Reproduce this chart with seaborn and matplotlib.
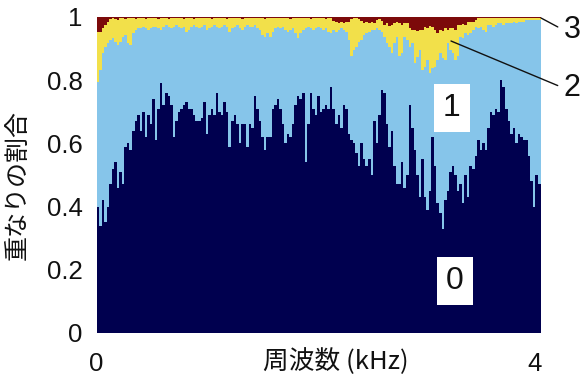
import numpy as np
import pandas as pd
import matplotlib
matplotlib.use("Agg")
import matplotlib.pyplot as plt
import seaborn as sns

# ---------------- data ----------------
freq_range_khz = (0.0, 4.05)
class_order = ["0", "1", "2", "3"]

# upper edge of class "0" share in each frequency bin
top_0 = [
    0.40, 0.34, 0.42, 0.35, 0.40, 0.47, 0.52, 0.54, 0.46, 0.51,
    0.47, 0.59, 0.60, 0.58, 0.64, 0.67, 0.69, 0.64, 0.70, 0.62,
    0.69, 0.66, 0.74, 0.61, 0.71, 0.79, 0.72, 0.76, 0.75, 0.72,
    0.62, 0.67, 0.70, 0.71, 0.72, 0.73, 0.71, 0.71, 0.69, 0.67,
    0.67, 0.68, 0.73, 0.63, 0.69, 0.71, 0.69, 0.76, 0.70, 0.69,
    0.73, 0.70, 0.59, 0.67, 0.69, 0.66, 0.60, 0.66, 0.66, 0.59, 0.66,
    0.65, 0.75, 0.71, 0.67, 0.62, 0.58, 0.62, 0.62, 0.71, 0.72,
    0.74, 0.71, 0.66, 0.60, 0.63, 0.62, 0.66, 0.72, 0.75, 0.74,
    0.76, 0.54, 0.66, 0.76, 0.71, 0.69, 0.75, 0.70, 0.71, 0.72,
    0.71, 0.78, 0.71, 0.66, 0.69, 0.65, 0.72, 0.71, 0.63, 0.61,
    0.60, 0.57, 0.53, 0.60, 0.55, 0.53, 0.55, 0.50, 0.67, 0.60,
    0.69, 0.77, 0.76, 0.66, 0.59, 0.64, 0.53, 0.47,
    0.47, 0.54, 0.46, 0.50, 0.72, 0.65, 0.58, 0.50, 0.43, 0.55,
    0.43, 0.39, 0.45, 0.62, 0.53, 0.41, 0.38, 0.33, 0.42, 0.45,
    0.51, 0.53, 0.50, 0.45, 0.47, 0.41, 0.50, 0.43, 0.53, 0.52,
    0.56, 0.61, 0.58, 0.60, 0.58, 0.65, 0.70, 0.69, 0.71, 0.70,
    0.80, 0.78, 0.71, 0.67, 0.63, 0.65, 0.60, 0.63, 0.62, 0.61,
    0.61, 0.56, 0.48, 0.40, 0.50, 0.47,
]

# upper edge of classes "0"+"1"
top_01 = [
    0.795, 0.832, 0.885, 0.906, 0.917, 0.927, 0.933, 0.922, 0.911, 0.922,
    0.938, 0.943, 0.917, 0.911, 0.948, 0.959, 0.964, 0.964, 0.969, 0.964,
    0.959, 0.964, 0.969, 0.969, 0.964, 0.959, 0.969, 0.975, 0.969, 0.964,
    0.969, 0.975, 0.969, 0.964, 0.969, 0.954, 0.959, 0.969, 0.975, 0.969,
    0.964, 0.969, 0.975, 0.959, 0.964, 0.969, 0.975, 0.969, 0.964, 0.969,
    0.975, 0.969, 0.954, 0.964, 0.969, 0.975, 0.964, 0.959, 0.969, 0.975, 0.969,
    0.969, 0.975, 0.964, 0.959, 0.943, 0.938, 0.948, 0.938, 0.954, 0.964,
    0.969, 0.964, 0.969, 0.959, 0.954, 0.959, 0.964, 0.948, 0.933, 0.948,
    0.959, 0.964, 0.969, 0.964, 0.959, 0.964, 0.969, 0.964, 0.959, 0.964,
    0.954, 0.948, 0.959, 0.954, 0.959, 0.964, 0.959, 0.954, 0.927, 0.875,
    0.896, 0.906, 0.922, 0.927, 0.943, 0.948, 0.954, 0.959, 0.959, 0.964,
    0.959, 0.954, 0.938, 0.917, 0.906, 0.885, 0.917, 0.938,
    0.875, 0.885, 0.938, 0.927, 0.906, 0.917, 0.853, 0.875, 0.896, 0.832,
    0.843, 0.864, 0.822, 0.838, 0.843, 0.864, 0.885, 0.869, 0.864, 0.917,
    0.896, 0.885, 0.864, 0.875, 0.938, 0.933, 0.948, 0.943, 0.948, 0.959,
    0.969, 0.964, 0.969, 0.959, 0.954, 0.975, 0.975, 0.969, 0.975, 0.980,
    0.980, 0.975, 0.980, 0.980, 0.980, 0.985, 0.980, 0.985, 0.985, 0.985,
    0.990, 0.990, 0.990, 0.990, 0.990, 0.990,
]

# upper edge of classes "0"+"1"+"2" (the rest up to 1 is class "3")
top_012 = [
    0.954, 0.954, 0.964, 0.975, 0.985, 0.994, 0.996, 0.994, 0.992, 0.996,
    0.997, 0.994, 0.997, 0.998, 0.996, 0.994, 0.998, 0.998, 0.996, 0.994,
    0.998, 0.998, 0.996, 0.997, 0.994, 0.998, 0.998, 0.996, 0.994, 0.997,
    0.998, 0.998, 0.997, 0.996, 0.994, 0.998, 0.998, 0.997, 0.994, 0.996,
    0.998, 0.997, 0.996, 0.998, 0.998, 0.994, 0.996, 0.998, 0.997, 0.998,
    0.996, 0.994, 0.998, 0.998, 0.997, 0.996, 0.998, 0.994, 0.996, 0.998, 0.997,
    0.997, 0.998, 0.996, 0.997, 0.998, 0.994, 0.997, 0.998, 0.996, 0.997,
    0.998, 0.997, 0.996, 0.998, 0.997, 0.994, 0.997, 0.998, 0.996, 0.997,
    0.998, 0.996, 0.997, 0.994, 0.998, 0.997, 0.996, 0.998, 0.997, 0.994,
    0.996, 0.997, 0.988, 0.985, 0.980, 0.985, 0.980, 0.983, 0.985, 0.994,
    0.996, 0.997, 0.994, 0.988, 0.980, 0.985, 0.980, 0.983, 0.980, 0.992,
    0.994, 0.988, 0.975, 0.980, 0.970, 0.975, 0.980, 0.985,
    0.980, 0.975, 0.980, 0.980, 0.964, 0.960, 0.959, 0.955, 0.960, 0.959,
    0.969, 0.965, 0.970, 0.969, 0.959, 0.950, 0.959, 0.955, 0.964, 0.960,
    0.964, 0.965, 0.960, 0.975, 0.975, 0.978, 0.975, 0.985, 0.985, 0.983,
    0.992, 0.996, 0.997, 0.996, 0.997, 0.998, 0.997, 0.996, 0.997, 0.998,
    0.997, 0.996, 0.998, 0.997, 0.996, 0.998, 0.997, 0.998, 0.996, 0.998,
    0.998, 0.997, 0.998, 0.998, 0.998, 0.998,
]

y_ticks = [0, 0.2, 0.4, 0.6, 0.8, 1]
y_tick_labels = ["0", "0.2", "0.4", "0.6", "0.8", "1"]
x_ticks = [0, 4]
x_tick_labels = ["0", "4"]
x_label = "周波数 (kHz)"
y_label = "重なりの割合"
palette = {"0": "#00004f", "1": "#86c5ea", "2": "#f2e04a", "3": "#7c0a0a"}

# ---------------- build long table ----------------
n = len(top_0)
edges = np.linspace(freq_range_khz[0], freq_range_khz[1], n + 1)
centers = (edges[:-1] + edges[1:]) / 2
t0 = np.array(top_0)
t01 = np.array(top_01)
t012 = np.array(top_012)
shares = {"0": t0, "1": t01 - t0, "2": t012 - t01, "3": 1.0 - t012}
df = pd.concat(
    [pd.DataFrame({"freq": centers, "cls": k, "share": v}) for k, v in shares.items()],
    ignore_index=True,
)

# ---------------- plot ----------------
sns.set_theme(style="white")
plt.rcParams["font.family"] = ["Liberation Sans", "DejaVu Sans"]
cjk = ["Noto Sans CJK JP", "DejaVu Sans"]

W, H = 584, 377
fig = plt.figure(figsize=(W / 100, H / 100), dpi=100)
L, R, T, B = 96.5, 540.5, 17, 333
ax = fig.add_axes([L / W, 1 - B / H, (R - L) / W, (B - T) / H])

sns.histplot(
    data=df, x="freq", weights="share", hue="cls",
    hue_order=["3", "2", "1", "0"], bins=list(edges),
    multiple="fill", element="step", fill=True,
    linewidth=0, alpha=1, palette=palette, legend=False, ax=ax,
)

ax.set_xlim(*freq_range_khz)
ax.set_ylim(0, 1)
for s in ax.spines.values():
    s.set_visible(False)
ax.set_yticks(y_ticks)
ax.set_yticklabels(y_tick_labels)
ax.set_xticks(x_ticks)
ax.set_xticklabels(x_tick_labels)
ax.tick_params(axis="both", length=0, labelsize=18.5, colors="#111111")
ax.tick_params(axis="y", pad=10)
ax.tick_params(axis="x", pad=14)
ax.set_xlabel("")
ax.set_ylabel("")

fig.text(336 / W, 1 - 362 / H, x_label, family=cjk, fontsize=18.5,
         ha="center", va="center", color="#111111")
fig.text(18 / W, 1 - 185 / H, y_label, family=cjk, fontsize=18,
         rotation=90, ha="center", va="center", color="#111111")

# class labels inside the plot
box = dict(boxstyle="square,pad=0.28", fc="white", ec="none")
ax.text(3.24, (B - 108) / (B - T), "1", fontsize=23, ha="center", va="center",
        bbox=box, color="#111111")
ax.text(3.27, (B - 281) / (B - T), "0", fontsize=23, ha="center", va="center",
        bbox=box, color="#111111")

# callouts for classes 2 and 3
def px2data(px, py):
    return ((px - L) / (R - L) * freq_range_khz[1], (B - py) / (B - T))

line_kw = dict(arrowstyle="-", color="#111111", lw=1.0,
               shrinkA=2, shrinkB=0, relpos=(0, 0.5))
ax.annotate("2", xy=px2data(451, 41), xycoords="data",
            xytext=(572 / W, 1 - 88 / H), textcoords="figure fraction",
            fontsize=22, ha="center", va="center", color="#111111",
            annotation_clip=False, arrowprops=line_kw)
ax.annotate("3", xy=px2data(541, 18), xycoords="data",
            xytext=(572 / W, 1 - 30 / H), textcoords="figure fraction",
            fontsize=22, ha="center", va="center", color="#111111",
            annotation_clip=False, arrowprops=line_kw)

fig.savefig("out.png", dpi=100)
